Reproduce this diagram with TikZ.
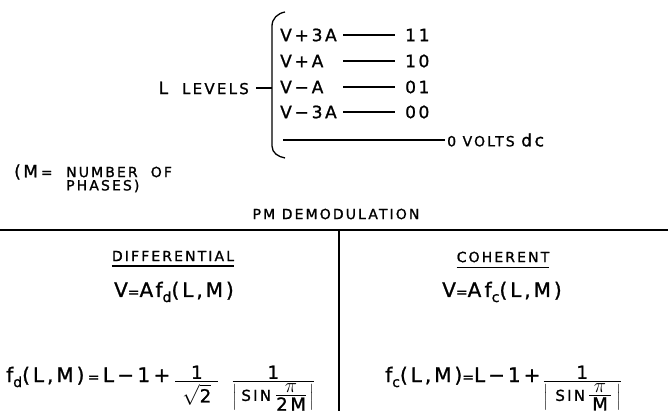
\documentclass[tikz,border=0pt]{standalone}
\usepackage{amsmath}
\usepackage{fontspec}
\setmainfont{DejaVu Sans}[LetterSpace=15, FakeBold=1.2]
\usepackage{tikz}
\usetikzlibrary{positioning, calc}
\newcommand{\bigtxt}{\fontsize{17}{20}\selectfont}
\newcommand{\smalltxt}{\fontsize{14}{16}\selectfont}
\newcommand{\eqtxt}{\fontsize{20}{24}\selectfont}
\newcommand{\numtxt}{\fontsize{18}{20}\selectfont}
\newcommand{\sintxt}{\fontsize{15}{17}\selectfont}
\newcommand{\barfrac}[2]{\genfrac{}{}{1.3pt}{1}{#1}{#2}}

\begin{document}
\begin{tikzpicture}[x=1pt, y=-1pt, every node/.style={inner sep=2pt},
    line/.style={line width=1.3pt}, rule/.style={line width=1.7pt},
    big/.style={font=\bigtxt}, small/.style={font=\smalltxt}, eq/.style={font=\eqtxt}]
  \useasboundingbox (0,0) rectangle (668,411);
  \node[anchor=east, inner xsep=7pt] (levels) at (256,88) {\bigtxt L\hspace{14pt}\fontsize{15}{17}\selectfont LEVELS};
  \coordinate (bmid) at (272,88);
  \draw[line] (285,12) to[out=190,in=90] (272,26) -- (272,146) to[out=-90,in=170] (285,158);
  \draw[line] (levels.east) -- (bmid);
  \coordinate (ls) at (343,0);
  \foreach \lev/\code/\y [count=\i] in {V\,+\,3A/1\,1/35, V\,+\,A/10/61, V\,−\,A/01/87, V\,−\,3A/00/112}{
    \node[big, anchor=west] (lev\i) at (278,\y) {\lev};
    \node[big, anchor=west, inner xsep=10pt] (code\i) at (395,\y) {\code};
    \draw[line] (ls |- code\i) -- (code\i.west);
  }
  \coordinate (zs) at (283,140);
  \node[anchor=west] (volts) at (445,140) {\smalltxt 0 VOLTS \bigtxt dc};
  \draw[line] (zs) -- (volts.west);

  \node[big, anchor=west] (meq) at (12,172) {(M\,{\smalltxt =}};
  \node[small, anchor=west] (num) at (64,172) {NUMBER\ \ OF};
  \node[small, anchor=west] (phases) at (64,186) {PHASES)};

  \node[small] (pmdemod) at (336,214) {PM DEMODULATION};
  \draw[rule] (0,230) -- (668,230);
  \draw[rule] (339,230) -- (339,411);

  \node[small, inner xsep=0pt, inner ysep=5pt] (diff) at (173,256) {DIFFERENTIAL};
  \draw[rule] (diff.south west) -- (diff.south east);
  \node[small, inner xsep=0pt, inner ysep=5pt] (coh) at (503,257) {COHERENT};
  \draw[rule] (coh.south west) -- (coh.south east);
  \node[eq] (vd) at (174,292) {V{\smalltxt =}Af\raisebox{-5pt}{\smalltxt d}(L,M)};
  \node[eq] (vc) at (502,292) {V{\smalltxt =}A\,f\raisebox{-5pt}{\smalltxt c}(L,M)};

  \node[eq, anchor=base west, inner sep=0pt] (fd) at (6,382)
    {f\raisebox{-5pt}{\smalltxt d}(L,M)\,{\smalltxt =}\,L\,−\,1\,+\hspace{4pt}%
     \raisebox{-5pt}{$\barfrac{\mbox{\numtxt 1}}{\hspace{7pt}\sqrt{\mbox{\numtxt 2}}\hspace{7pt}}$}\hspace{12pt}%
     \raisebox{-5pt}{$\barfrac{\mbox{\numtxt 1}}{\left|\hspace{4pt}\mbox{\sintxt SIN}\hspace{4pt}
       \genfrac{}{}{1.1pt}{1}{\mbox{\fontsize{22}{24}\selectfont$\pi$}}{\mbox{\numtxt 2M}}\hspace{2pt}\right|}$}};
  \node[eq, anchor=base west, inner sep=0pt] (fc) at (385,382)
    {f\raisebox{-5pt}{\smalltxt c}(L,M){\smalltxt =}L−1+\hspace{2pt}%
     \raisebox{-5pt}{$\barfrac{\mbox{\numtxt 1}}{\left|\hspace{7pt}\mbox{\sintxt SIN}\hspace{3pt}
       \genfrac{}{}{1.1pt}{1}{\mbox{\fontsize{22}{24}\selectfont$\pi$}}{\mbox{\numtxt\,M\,}}\hspace{4pt}\right|}$}};
\end{tikzpicture}
\end{document}
